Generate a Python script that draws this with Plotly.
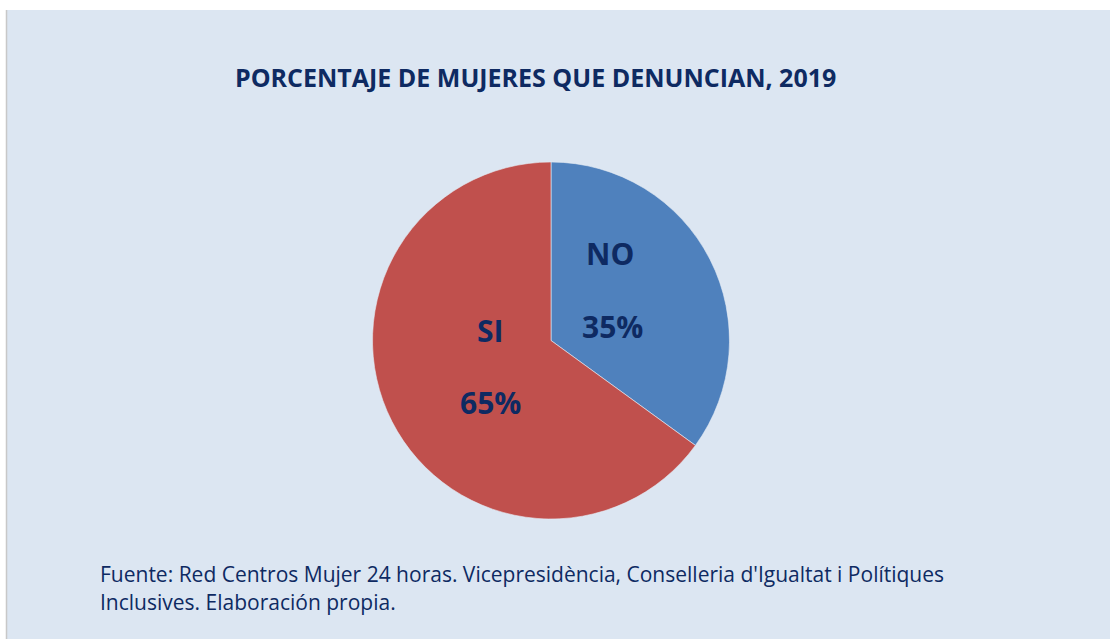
import plotly.graph_objects as go

labels = ["NO", "SI"]
values = [35, 65]
colors = ["#4F81BD", "#C0504D"]
title_text = "PORCENTAJE DE MUJERES QUE DENUNCIAN, 2019"
source_lines = [
    "Fuente: Red Centros Mujer 24 horas. Vicepresidència, Conselleria d'Igualtat i Polítiques",
    "Inclusives. Elaboración propia.",
]

W, H = 1110, 639
navy = "#0E2A62"
font_family = "Open Sans"

fig = go.Figure()
fig.add_trace(go.Pie(
    labels=labels,
    values=values,
    sort=False,
    direction="clockwise",
    rotation=0,
    marker=dict(colors=colors, line=dict(color="#E6ECF5", width=0.6)),
    textinfo="none",
    hoverinfo="label+percent",
    showlegend=False,
    domain=dict(x=[372.5 / W, 729.5 / W], y=[120 / H, 477 / H]),
))

# label positions (pixels) for each slice: name and percent
label_pos = {"NO": (610, 254, 612, 326), "SI": (490, 330, 490, 402)}
total = sum(values)
annotations = []
for lab, val in zip(labels, values):
    x1, y1, x2, y2 = label_pos[lab]
    annotations.append(dict(x=x1 / W, y=1 - y1 / H, xref="paper", yref="paper",
                            yanchor="middle", text=f"<b>{lab}</b>", showarrow=False,
                            font=dict(family=font_family, size=30, color=navy)))
    annotations.append(dict(x=x2 / W, y=1 - y2 / H, xref="paper", yref="paper",
                            yanchor="middle", text=f"<b>{round(100 * val / total)}%</b>",
                            showarrow=False,
                            font=dict(family=font_family, size=30, color=navy)))

annotations.append(dict(x=535 / W, y=1 - 77 / H, xref="paper", yref="paper",
                        yanchor="middle", text=f"<b>{title_text}</b>", showarrow=False,
                        font=dict(family=font_family, size=25, color=navy)))
for i, line in enumerate(source_lines):
    annotations.append(dict(x=98 / W, y=1 - (574 + 28 * i) / H, xref="paper", yref="paper",
                            xanchor="left", yanchor="middle", text=line, showarrow=False,
                            font=dict(family=font_family, size=21, color=navy)))

fig.update_layout(
    width=W, height=H,
    margin=dict(l=0, r=0, t=0, b=0),
    paper_bgcolor="white",
    annotations=annotations,
    shapes=[
        dict(type="rect", xref="paper", yref="paper", x0=7 / W, x1=1, y0=0, y1=1 - 10 / H,
             fillcolor="#DCE6F2", line=dict(width=0), layer="below"),
        dict(type="line", xref="paper", yref="paper", x0=6.5 / W, x1=6.5 / W, y0=0, y1=1 - 10 / H,
             line=dict(color="#C8C8C8", width=1.5), layer="below"),
    ],
)

fig.write_html("out.html", config={"displayModeBar": False},
               post_script="document.body.style.margin='0';document.body.style.overflow='hidden';")
